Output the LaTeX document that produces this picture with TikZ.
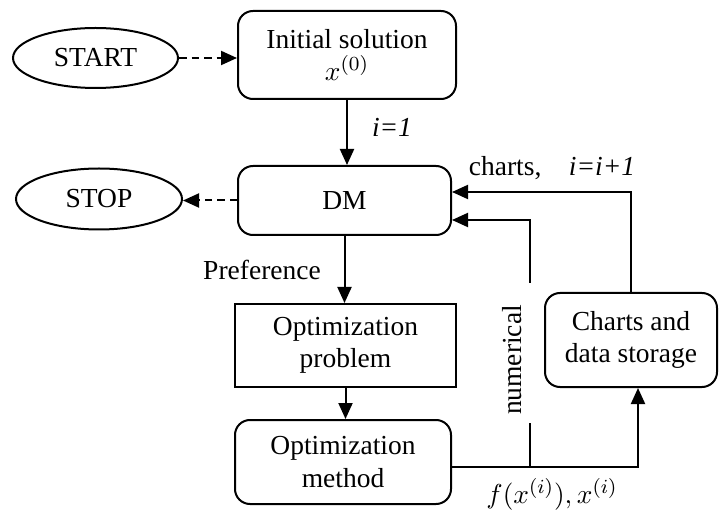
\documentclass[tikz,border=0pt]{standalone}
\usepackage{fontspec}
\setmainfont{Liberation Serif}
\usepackage{tikz}
\usetikzlibrary{shapes,arrows.meta,positioning,calc}

\tikzset{
  box/.style={draw, line width=0.8pt, rounded corners=6pt, align=center, inner sep=0pt},
  plainbox/.style={draw, line width=0.8pt, align=center, inner sep=0pt},
  terminal/.style={draw, ellipse, line width=0.8pt, inner sep=0pt},
  wire/.style={line width=0.8pt},
  flow/.style={wire, -{Triangle[length=6.4pt,width=5.6pt]}},
  hint/.style={flow, dash pattern=on 3pt off 2pt},
}

\begin{document}
\begin{tikzpicture}[x=0.4pt, y=-0.4pt, font=\fontsize{11}{13}\selectfont]
    \useasboundingbox (0,0) rectangle (719,512);

    % Start and initial solution
    \node[terminal, minimum width=66pt, minimum height=24pt] (start) at (95.5,58) {START};
    \node[box, minimum width=87.2pt, minimum height=35.2pt] (init) at (347,55) {Initial solution\\$x^{(0)}$};
    \draw[hint] (start.east) -- (start.east -| init.west);

    % Decision maker and stop
    \node[box, minimum width=85.2pt, minimum height=27.6pt] (dm) at (344.5,200.5) {DM};
    \node[terminal, minimum width=66.4pt, minimum height=24.4pt] (stop) at (99,199) {STOP};
    \draw[flow] (init.south) -- (init.south |- dm.north);
    \node (istart) at (392,127) {\textit{i=1}};
    \draw[hint] (dm.west) -- (dm.west -| stop.east);

    % Optimization chain
    \node[plainbox, minimum width=88.4pt, minimum height=33.2pt] (prob) at (345.5,345.5) {Optimization\\problem};
    \node[box, minimum width=86.4pt, minimum height=33.6pt] (meth) at (343,462) {Optimization\\method};
    \draw[flow] (dm.south) -- (dm.south |- prob.north);
    \node (pref) at (262,270) {Preference};
    \draw[flow] (prob.south) -- (prob.south |- meth.north);

    % Storage of results
    \node[box, minimum width=68.8pt, minimum height=37.6pt] (store) at (631,340) {Charts and\\data storage};
    \coordinate (out) at ([yshift=-2pt]meth.east);
    \draw[flow] (out) -| ([xshift=2.8pt]store.south);
    \node (fx) at (552,494) {$f(x^{(i)}),x^{(i)}$};

    % Feedback to the DM
    \coordinate (numlo) at (530,423);
    \coordinate (numhi) at (530,283);
    \draw[wire] (numlo |- out) -- (numlo);
    \draw[flow] (numhi) |- ([yshift=-7.8pt]dm.east);
    \node[rotate=90] (num) at (512,360) {numerical};
    \draw[flow] (store.north) |- ([yshift=3.4pt]dm.east);
    \node (upd) at (552,168) {charts,\quad\textit{i=i+1}};
\end{tikzpicture}
\end{document}
